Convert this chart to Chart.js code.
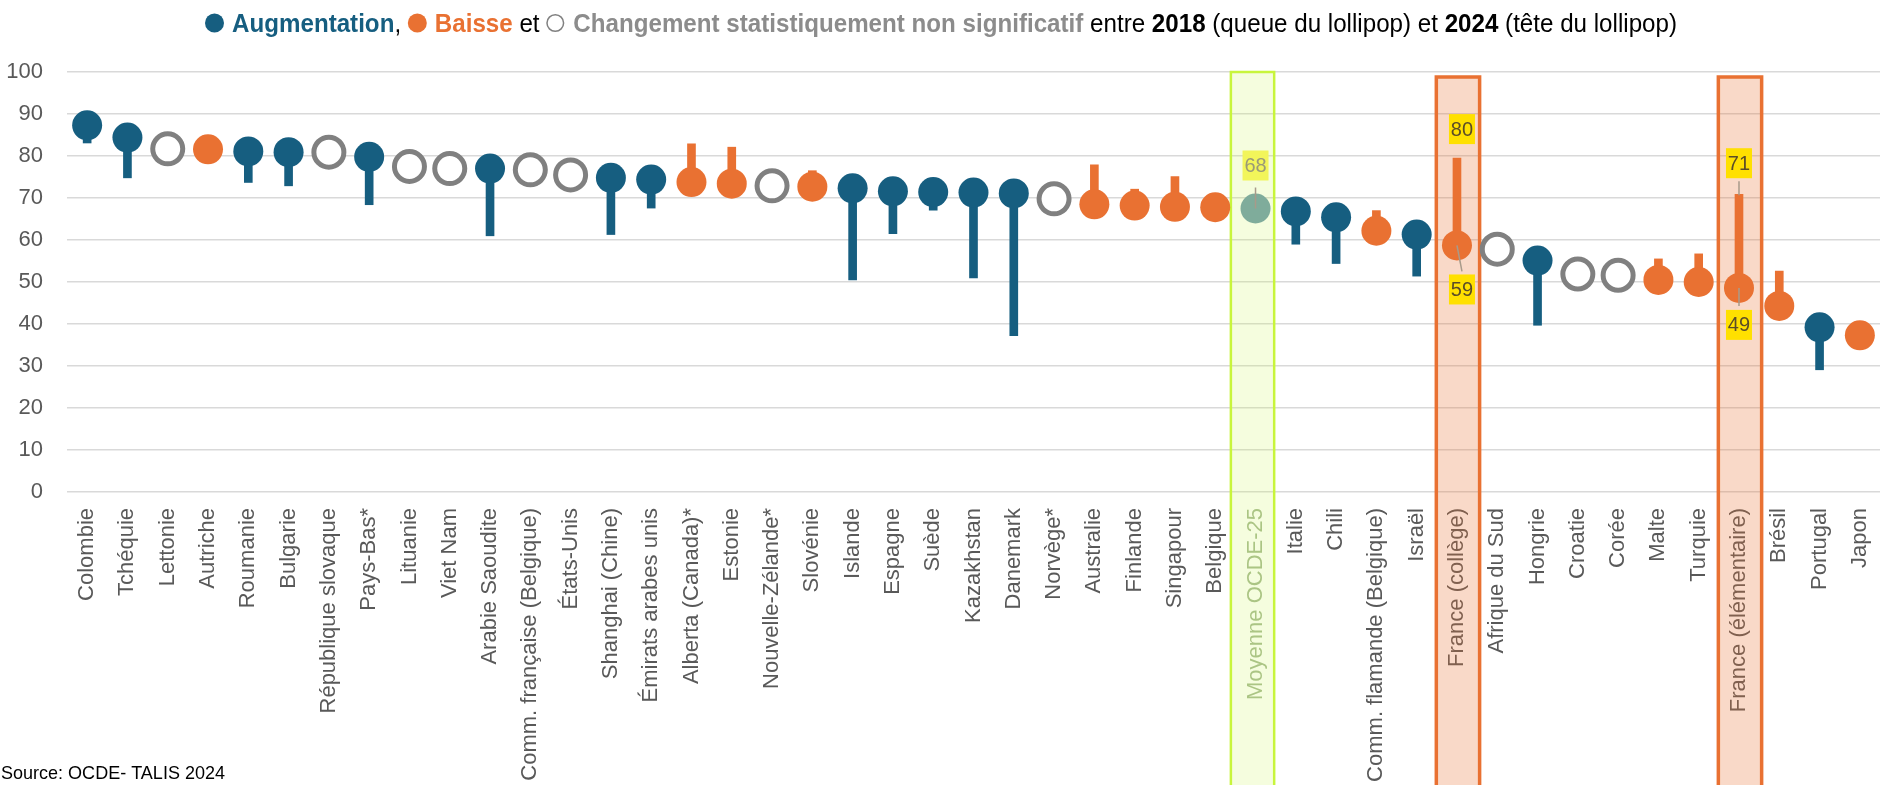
<!DOCTYPE html>
<html lang="fr">
<head>
<meta charset="utf-8">
<title>TALIS 2024 - lollipop</title>
<script src="https://cdn.jsdelivr.net/npm/chart.js@4.4.1/dist/chart.umd.min.js"></script>
<style>
    html, body { margin: 0; padding: 0; background: #fff; }
    canvas { display: block; }
</style>
</head>
<body>
<canvas id="lollipopChart" width="1883" height="785"></canvas>
<script>
// Categories, 2024 values (head) and 2018 values (tail)
const categories = [
    'Colombie', 'Tchéquie', 'Lettonie', 'Autriche', 'Roumanie', 'Bulgarie',
    'République slovaque', 'Pays-Bas*', 'Lituanie', 'Viet Nam', 'Arabie Saoudite',
    'Comm. française (Belgique)', 'États-Unis', 'Shanghai (Chine)', 'Émirats arabes unis',
    'Alberta (Canada)*', 'Estonie', 'Nouvelle-Zélande*', 'Slovénie', 'Islande', 'Espagne',
    'Suède', 'Kazakhstan', 'Danemark', 'Norvège*', 'Australie', 'Finlande', 'Singapour',
    'Belgique', 'Moyenne OCDE-25', 'Italie', 'Chili', 'Comm. flamande (Belgique)', 'Israël',
    'France (collège)', 'Afrique du Sud', 'Hongrie', 'Croatie', 'Corée', 'Malte', 'Turquie',
    'France (élémentaire)', 'Brésil', 'Portugal', 'Japon'
];

const values2024 = [
    87.3, 84.4, 81.7, 81.6, 81.1, 80.9, 80.9, 79.8, 77.5, 77.0, 77.0,
    76.7, 75.5, 74.8, 74.4, 73.8, 73.4, 72.9, 72.7, 72.3, 71.6,
    71.4, 71.3, 71.1, 69.8, 68.5, 68.2, 67.9, 67.8, 67.5, 66.8,
    65.4, 62.2, 61.3, 58.7, 57.8, 55.1, 51.9, 51.6, 50.5, 50.0,
    48.6, 44.3, 39.2, 37.3
];

const values2018 = [
    83.1, 74.8, null, 82.3, 73.7, 72.9, null, 68.4, null, null, 61.0,
    null, null, 61.3, 67.6, 82.9, 82.1, null, 76.5, 50.5, 61.5,
    67.1, 51.0, 37.2, null, 77.9, 72.1, 75.1, 68.5, null, 59.0,
    54.4, 67.0, 51.4, 79.5, null, 39.7, null, null, 55.5, 56.7,
    70.9, 52.6, 29.1, 37.8
];

// up = augmentation, down = baisse, ns = non significatif, avg = moyenne
const changeStatus = [
    'up', 'up', 'ns', 'down', 'up', 'up', 'ns', 'up', 'ns', 'ns', 'up',
    'ns', 'ns', 'up', 'up', 'down', 'down', 'ns', 'down', 'up', 'up',
    'up', 'up', 'up', 'ns', 'down', 'down', 'down', 'down', 'avg', 'up',
    'up', 'down', 'up', 'down', 'ns', 'up', 'ns', 'ns', 'down', 'down',
    'down', 'down', 'up', 'down'
];

const yMin = 0;
const yMax = 100;
const yStep = 10;

const avgIndex = 29;

const COLORS = {
    up: '#165E80',
    down: '#E97132',
    ns: '#808080',
    avg: '#7FAC9B',
    grid: '#D9D9D9',
    tick: '#595959'
};

// Highlighted columns (moyenne + France)
const highlightBoxes = [
    { index: 29, fill: 'rgba(205,245,90,0.2)', stroke: '#C8F53C', lineWidth: 2.5, top: 72, dx: -3 },
    { index: 34, fill: 'rgba(233,113,50,0.27)', stroke: '#E97132', lineWidth: 3.5, top: 77, dx: 1 },
    { index: 41, fill: 'rgba(233,113,50,0.27)', stroke: '#E97132', lineWidth: 3.5, top: 77, dx: 1 }
];

// Yellow value labels
const valueLabels = [
    { index: 29, year: 2024, dx: 0, dy: -43, line: [-21, 0], bg: '#F2F55A', color: '#9A9A78' },
    { index: 34, year: 2018, dx: 5, dy: -29, line: null, bg: '#FFE000', color: '#5C4D28' },
    { index: 34, year: 2024, dx: 5, dy: 44, line: [0, 26], bg: '#FFE000', color: '#5C4D28' },
    { index: 41, year: 2018, dx: 0, dy: -31, line: [-13, 1], bg: '#FFE000', color: '#5C4D28' },
    { index: 41, year: 2024, dx: 0, dy: 37, line: [0, 18], bg: '#FFE000', color: '#5C4D28' }
];

document.addEventListener('DOMContentLoaded', function() {
    initializeChart();
});

function statusColor(i) {
    return COLORS[changeStatus[i]];
}

const decorationsPlugin = {
    id: 'decorations',
    beforeDatasetsDraw(chart) {
        const ctx = chart.ctx;
        const x = chart.scales.x;
        const step = x.getPixelForValue(1) - x.getPixelForValue(0);
        highlightBoxes.forEach(box => {
            const cx = x.getPixelForValue(box.index) + box.dx;
            const w = step + 3;
            ctx.save();
            ctx.fillStyle = box.fill;
            ctx.fillRect(cx - w / 2, box.top, w, chart.height - box.top + 10);
            ctx.strokeStyle = box.stroke;
            ctx.lineWidth = box.lineWidth;
            ctx.strokeRect(cx - w / 2, box.top, w, chart.height - box.top + 10);
            ctx.restore();
        });
    },
    afterDatasetsDraw(chart) {
        const ctx = chart.ctx;
        const x = chart.scales.x;
        const y = chart.scales.y;
        valueLabels.forEach(lbl => {
            const v = lbl.year === 2024 ? values2024[lbl.index] : values2018[lbl.index];
            const px = x.getPixelForValue(lbl.index);
            const py = y.getPixelForValue(v);
            ctx.save();
            if (lbl.line) {
                ctx.strokeStyle = '#A89A8A';
                ctx.lineWidth = 1.5;
                ctx.beginPath();
                ctx.moveTo(px, py + lbl.line[0]);
                ctx.lineTo(px + (lbl.line[1] > lbl.line[0] && lbl.dx ? lbl.dx : 0), py + lbl.line[1]);
                ctx.stroke();
            }
            const cx = px + lbl.dx;
            const cy = py + lbl.dy;
            ctx.fillStyle = lbl.bg;
            ctx.fillRect(cx - 13, cy - 15, 26, 30);
            ctx.fillStyle = lbl.color;
            ctx.font = '20px "Liberation Sans", Arial, sans-serif';
            ctx.textAlign = 'center';
            ctx.textBaseline = 'middle';
            ctx.fillText(String(Math.round(v)), cx, cy + 1);
            ctx.restore();
        });
    },
    afterDraw(chart) {
        drawLegend(chart.ctx);
        drawSource(chart.ctx);
    }
};

function drawLegend(ctx) {
    const parts = [
        { marker: 'dot', color: COLORS.up },
        { text: 'Augmentation', bold: true, color: COLORS.up },
        { text: ', ', color: '#000' },
        { marker: 'dot', color: COLORS.down },
        { text: 'Baisse', bold: true, color: COLORS.down },
        { text: ' et ', color: '#000' },
        { marker: 'ring', color: '#808080' },
        { text: 'Changement statistiquement non significatif', bold: true, color: '#8C8C8C' },
        { text: ' entre ', color: '#000' },
        { text: '2018', bold: true, color: '#000' },
        { text: ' (queue du lollipop) et ', color: '#000' },
        { text: '2024', bold: true, color: '#000' },
        { text: ' (tête du lollipop)', color: '#000' }
    ];
    const left = 205, right = 1677, baseline = 32, markerW = 27;
    const fontFor = p => (p.bold ? 'bold ' : '') + '26px "Liberation Sans", Arial, sans-serif';

    ctx.save();
    let textW = 0, markW = 0;
    parts.forEach(p => {
        if (p.marker) { markW += markerW; return; }
        ctx.font = fontFor(p);
        p.w = ctx.measureText(p.text).width;
        textW += p.w;
    });
    const sx = (right - left - markW) / textW;

    let cur = left;
    ctx.textBaseline = 'alphabetic';
    parts.forEach(p => {
        if (p.marker) {
            ctx.beginPath();
            if (p.marker === 'dot') {
                ctx.arc(cur + 9.5, 23, 9.5, 0, Math.PI * 2);
                ctx.fillStyle = p.color;
                ctx.fill();
            } else {
                ctx.arc(cur + 9, 23, 8.3, 0, Math.PI * 2);
                ctx.strokeStyle = p.color;
                ctx.lineWidth = 1.5;
                ctx.stroke();
            }
            cur += markerW;
            return;
        }
        ctx.save();
        ctx.translate(cur, baseline);
        ctx.scale(sx, 1);
        ctx.font = fontFor(p);
        ctx.fillStyle = p.color;
        ctx.fillText(p.text, 0, 0);
        ctx.restore();
        cur += p.w * sx;
    });
    ctx.restore();
}

function drawSource(ctx) {
    const text = 'Source: OCDE- TALIS 2024';
    ctx.save();
    ctx.font = '19px "Liberation Sans", Arial, sans-serif';
    const w = ctx.measureText(text).width;
    ctx.translate(1, 779);
    ctx.scale(224 / w, 1);
    ctx.fillStyle = '#000';
    ctx.fillText(text, 0, 0);
    ctx.restore();
}

function initializeChart() {
    const ctx = document.getElementById('lollipopChart');

    const stems = values2018.map((t, i) => (t === null ? null : [t, values2024[i]]));

    new Chart(ctx, {
        type: 'bar',
        data: {
            labels: categories,
            datasets: [{
                type: 'line',
                label: '2024',
                data: values2024,
                showLine: false,
                order: 0,
                pointRadius: 15,
                pointHoverRadius: 15,
                pointBackgroundColor: values2024.map((v, i) => changeStatus[i] === 'ns' ? '#FFFFFF' : statusColor(i)),
                pointBorderColor: values2024.map((v, i) => statusColor(i)),
                pointBorderWidth: values2024.map((v, i) => changeStatus[i] === 'ns' ? 5 : 0),
                clip: false
            }, {
                type: 'bar',
                label: '2018',
                data: stems,
                order: 1,
                barThickness: 8,
                backgroundColor: values2024.map((v, i) => statusColor(i)),
                borderWidth: 0
            }]
        },
        options: {
            responsive: false,
            devicePixelRatio: 1,
            animation: false,
            layout: {
                autoPadding: false,
                padding: { top: 72, right: 3, left: 0, bottom: 0 }
            },
            plugins: {
                legend: { display: false },
                tooltip: { enabled: false }
            },
            scales: {
                x: {
                    offset: true,
                    grid: { display: false },
                    border: { display: false },
                    ticks: {
                        autoSkip: false,
                        maxRotation: 90,
                        minRotation: 90,
                        padding: 8,
                        color: (c) => c.index === avgIndex ? '#A3B98F' : COLORS.tick,
                        font: { family: '"Liberation Sans", Arial, sans-serif', size: 22 }
                    },
                    afterFit: (scale) => {
                        scale.height = 293;
                        scale.paddingLeft = 0;
                        scale.paddingRight = 0;
                    }
                },
                y: {
                    min: yMin,
                    max: yMax,
                    grid: {
                        color: COLORS.grid,
                        lineWidth: 1.5,
                        drawTicks: false
                    },
                    border: { display: false },
                    ticks: {
                        stepSize: yStep,
                        padding: 24,
                        color: COLORS.tick,
                        font: { family: '"Liberation Sans Narrow", "Liberation Sans", Arial, sans-serif', size: 22 }
                    },
                    afterFit: (scale) => {
                        scale.width = 67;
                        scale.paddingTop = 0;
                        scale.paddingBottom = 0;
                    }
                }
            }
        },
        plugins: [decorationsPlugin]
    });
}
</script>
</body>
</html>
